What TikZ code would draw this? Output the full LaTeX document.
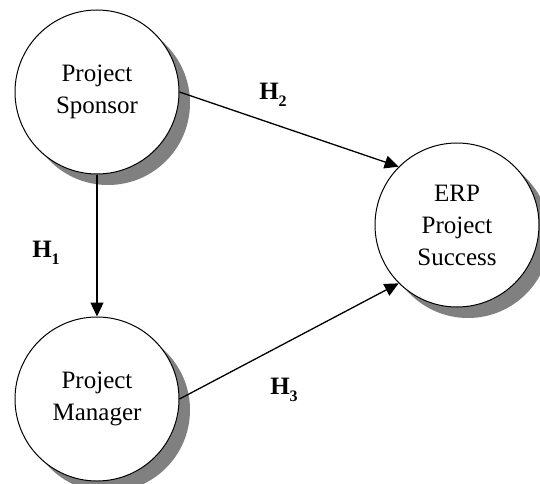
\documentclass[tikz,border=0pt]{standalone}
\usepackage{fontspec}
\setmainfont{Liberation Serif}
\usetikzlibrary{arrows.meta,shadows}
\tikzset{
  construct/.style={circle, draw=black, line width=1pt, fill=white, minimum size=164pt, inner sep=0pt,
    align=center, font=\fontsize{25}{32}\selectfont,
    drop shadow={shadow xshift=11pt, shadow yshift=-11pt, fill=black!50, opacity=1}},
  link/.style={line width=1.3pt, -{Triangle[length=14pt,width=13pt]}},
  hyp/.style={font=\fontsize{25}{30}\selectfont\bfseries, inner sep=0pt}
}
\newcommand{\hyplabel}[1]{H\raisebox{-7pt}{\fontsize{16}{16}\selectfont\bfseries #1}}
\begin{document}
\begin{tikzpicture}[x=1pt,y=1pt]
\useasboundingbox (0,0) rectangle (540,483);
\clip (0,0) rectangle (540,483);
\fill[white] (0,0) rectangle (540,483);
\node[construct] (sponsor) at (97,391) {Project\\Sponsor};
\node[construct] (manager) at (97,84) {Project\\Manager};
\node[construct] (erp) at (457,258) {ERP\\Project\\Success};
\draw[link] (sponsor.south) -- (manager.north);
\draw[link] (sponsor.east) -- (erp.135);
\draw[link] (manager.east) -- (erp.225);
\node[hyp] (h1) at (46,230) {\hyplabel{1}};
\node[hyp] (h2) at (273,388) {\hyplabel{2}};
\node[hyp] (h3) at (284,93) {\hyplabel{3}};
\end{tikzpicture}
\end{document}
